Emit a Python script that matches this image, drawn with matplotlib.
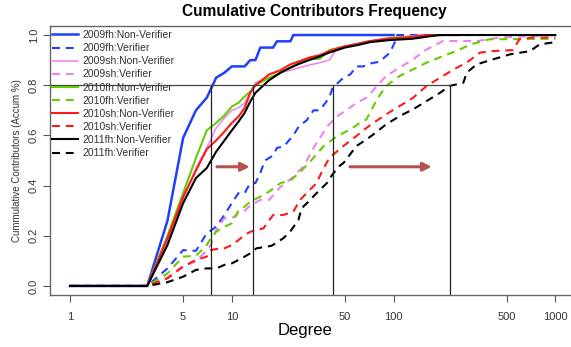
import matplotlib
matplotlib.use("Agg")
import matplotlib.pyplot as plt

plt.rcParams['font.family'] = ['Liberation Sans', 'DejaVu Sans']

# ---------------- data (degree, cumulative fraction) ----------------
labels = ["2009fh:Non-Verifier", "2009fh:Verifier",
          "2009sh:Non-Verifier", "2009sh:Verifier",
          "2010fh:Non-Verifier", "2010fh:Verifier",
          "2010sh:Non-Verifier", "2010sh:Verifier",
          "2011fh:Non-Verifier", "2011fh:Verifier"]
colors = ["#1f3fff", "#1f3fff", "#ee82ee", "#ee82ee", "#66cc00", "#66cc00",
          "#ff1a1a", "#ff1a1a", "#000000", "#000000"]

d_09fh_nv = [1, 3, 4, 5, 6, 7, 8, 9, 10, 12, 13, 14, 15, 18, 19, 23, 24, 100]
v_09fh_nv = [0, 0, 0.26, 0.59, 0.70, 0.75, 0.83, 0.85, 0.875, 0.875, 0.90, 0.90,
             0.95, 0.95, 0.975, 0.975, 1.0, 1.0]

d_09fh_v = [1, 3, 4, 5, 6, 7, 8, 9, 10, 11, 12, 13, 14, 15, 16, 17, 18, 19, 21, 24,
            26, 29, 32, 35, 40, 42, 49, 54, 59, 65, 70, 82, 95, 102, 105, 300]
v_09fh_v = [0, 0, 0.07, 0.143, 0.14, 0.21, 0.236, 0.283, 0.33, 0.37, 0.37, 0.41,
            0.41, 0.45, 0.50, 0.51, 0.52, 0.55, 0.557, 0.60, 0.637, 0.66, 0.70, 0.70,
            0.75, 0.79, 0.83, 0.843, 0.875, 0.875, 0.885, 0.894, 0.93, 0.973, 1.0, 1.0]

d_09sh_nv = [1, 3, 4, 5, 6, 7, 8, 9, 10, 11, 12, 13, 14, 17, 20, 23, 30, 35, 40, 45,
             55, 70, 90, 120, 150]
v_09sh_nv = [0, 0, 0.18, 0.345, 0.47, 0.55, 0.63, 0.67, 0.70, 0.71, 0.73, 0.77, 0.81,
             0.83, 0.85, 0.86, 0.88, 0.89, 0.90, 0.95, 0.96, 0.975, 0.985, 0.995, 1.0]

d_09sh_v = [1, 3, 4, 5, 6, 7, 7.4, 8, 9, 10, 11, 12, 13, 15, 17, 20, 24, 28, 32, 39,
            45, 52, 59, 68, 79, 90, 109, 132, 160, 202, 330, 450, 1000]
v_09sh_v = [0, 0, 0.035, 0.08, 0.097, 0.143, 0.163, 0.223, 0.27, 0.27, 0.29, 0.30,
            0.32, 0.343, 0.343, 0.395, 0.435, 0.48, 0.55, 0.637, 0.677, 0.704, 0.73,
            0.75, 0.797, 0.837, 0.87, 0.903, 0.943, 0.976, 0.976, 0.99, 1.0]

d_10fh_nv = [1, 3, 4, 5, 6, 7, 8, 9, 10, 11, 12, 13, 14, 17, 20, 23, 26, 30, 35, 40,
             50, 60, 80, 100, 150, 200]
v_10fh_nv = [0, 0, 0.20, 0.37, 0.51, 0.62, 0.65, 0.68, 0.715, 0.73, 0.755, 0.775,
             0.80, 0.83, 0.85, 0.87, 0.89, 0.905, 0.905, 0.94, 0.955, 0.965, 0.98,
             0.99, 0.995, 1.0]

d_10fh_v = [1, 3, 4, 5, 6, 7, 7.4, 8, 9, 10, 11, 12, 13, 15, 17, 20, 23, 26, 30, 37,
            45, 54, 62, 68, 79, 90, 109, 132, 160, 202, 244, 300, 330, 390, 1000]
v_10fh_v = [0, 0, 0.05, 0.117, 0.12, 0.163, 0.19, 0.216, 0.236, 0.25, 0.30, 0.316,
            0.336, 0.356, 0.376, 0.41, 0.42, 0.45, 0.49, 0.558, 0.598, 0.624, 0.65,
            0.664, 0.744, 0.797, 0.837, 0.863, 0.89, 0.916, 0.936, 0.963, 0.97,
            0.983, 0.985]

d_10sh_nv = [1, 3, 4, 5, 6, 7, 8, 9, 10, 11, 12, 13, 14, 17, 20, 23, 26, 30, 35, 40,
             50, 60, 70, 90, 120, 160, 250]
v_10sh_nv = [0, 0, 0.19, 0.355, 0.46, 0.545, 0.58, 0.615, 0.65, 0.675, 0.71, 0.77,
             0.80, 0.843, 0.86, 0.883, 0.895, 0.91, 0.92, 0.936, 0.955, 0.965, 0.975,
             0.985, 0.99, 1.0, 1.0]

d_10sh_v = [1, 3, 4, 5, 6, 7, 7.4, 8, 9, 10, 11, 12, 13, 15.7, 18, 20.8, 24, 26.4, 29,
            33.4, 36, 40, 49, 59, 68, 75, 90, 109, 132, 160, 194, 235, 283, 342, 410,
            545, 600, 720, 1000]
v_10sh_v = [0, 0, 0.03, 0.077, 0.104, 0.117, 0.143, 0.147, 0.15, 0.163, 0.183, 0.203,
            0.216, 0.23, 0.283, 0.283, 0.296, 0.343, 0.37, 0.41, 0.455, 0.51, 0.558,
            0.598, 0.63, 0.65, 0.684, 0.717, 0.75, 0.797, 0.83, 0.863, 0.89, 0.93,
            0.936, 0.94, 0.983, 0.99, 0.99]

d_11fh_nv = [1, 3, 4, 5, 6, 7, 8, 9, 10, 11, 12, 13, 14, 17, 20, 23, 26, 30, 35, 40,
             50, 60, 72, 95, 130, 190, 1000]
v_11fh_nv = [0, 0, 0.163, 0.33, 0.43, 0.47, 0.535, 0.58, 0.62, 0.655, 0.69, 0.735,
             0.77, 0.82, 0.85, 0.87, 0.885, 0.90, 0.915, 0.93, 0.95, 0.96, 0.972,
             0.98, 0.985, 1.0, 1.0]

d_11fh_v = [1, 3, 4, 5, 6, 7, 8, 9, 10, 11, 12, 13, 14.2, 17.6, 20.8, 22.9, 25.8, 27,
            29.8, 33.4, 38.7, 42.4, 46.6, 49, 59, 68, 75, 90, 109, 132, 160, 194, 222,
            270, 283, 326, 411, 525, 697, 800, 960, 1000]
v_11fh_v = [0, 0, 0.015, 0.037, 0.064, 0.07, 0.07, 0.084, 0.09, 0.104, 0.117, 0.13,
            0.15, 0.16, 0.19, 0.216, 0.263, 0.31, 0.336, 0.37, 0.41, 0.449, 0.48,
            0.49, 0.558, 0.584, 0.604, 0.644, 0.677, 0.704, 0.737, 0.77, 0.797, 0.81,
            0.85, 0.883, 0.903, 0.923, 0.936, 0.963, 0.97, 0.975]

series = [(d_09fh_nv, v_09fh_nv), (d_09fh_v, v_09fh_v),
          (d_09sh_nv, v_09sh_nv), (d_09sh_v, v_09sh_v),
          (d_10fh_nv, v_10fh_nv), (d_10fh_v, v_10fh_v),
          (d_10sh_nv, v_10sh_nv), (d_10sh_v, v_10sh_v),
          (d_11fh_nv, v_11fh_nv), (d_11fh_v, v_11fh_v)]

x_ticks = [1, 5, 10, 50, 100, 500, 1000]
y_ticks = [0.0, 0.2, 0.4, 0.6, 0.8, 1.0]
ref_degrees = [7.4, 13.5, 42, 224]
ref_level = 0.8

# ---------------- figure ----------------
W, H = 571, 347
fig = plt.figure(figsize=(W / 100, H / 100), dpi=100)
ax = fig.add_axes([50 / W, 1 - 295 / H, (578 - 50) / W, (295 - 26) / H])
ax.set_xscale('log')
ax.set_xlim(10 ** -0.124, 10 ** 3.14)
ax.set_ylim(-0.036, 1.036)

widths = [1.8, 1.5, 1.1, 1.5, 1.5, 1.5, 1.5, 1.5, 1.5, 1.5]
for i, ((d, v), c, lab) in enumerate(zip(series, colors, labels)):
    dashed = (i % 2 == 1)
    ax.plot(d, v, color=c, lw=widths[i], ls=(0, (3.8, 2.8)) if dashed else '-',
            label=lab, solid_joinstyle='round')

# reference lines
for rd in ref_degrees:
    ax.plot([rd, rd], [-0.036, ref_level], color='#222222', lw=0.9)
ax.plot([10 ** -0.124, ref_degrees[-1]], [ref_level, ref_level], color='#444444', lw=0.9)

# arrows
arrow_col = '#b5514f'
for x0, x1 in [(8.1, 12.9), (53.8, 172)]:
    ax.annotate('', xy=(x1, 0.475), xytext=(x0, 0.475),
                arrowprops=dict(arrowstyle='-|>,head_length=0.5,head_width=0.25',
                                color=arrow_col, lw=2.2, shrinkA=0, shrinkB=0))

ax.set_xticks(x_ticks)
ax.set_xticklabels([str(t) for t in x_ticks])
ax.minorticks_off()
ax.set_yticks(y_ticks)
ax.set_yticklabels([f"{t:.1f}" for t in y_ticks], rotation=90, va='center')
ax.tick_params(axis='both', labelsize=8, length=5, width=0.8, color='#555555',
               labelcolor='#333333', pad=3)
ax.tick_params(axis='x', pad=7)
for s in ax.spines.values():
    s.set_color('#666666')
    s.set_linewidth(1.0)

ax.set_xlabel('Degree', fontsize=12, labelpad=1)
ax.xaxis.set_label_coords((305 - 50) / 528, -0.105)
ax.set_ylabel('Cummulative Contributors (Accum %)', fontsize=7, color='#333333', labelpad=5)

fig.text(0.55, 0.968, 'Cumulative Contributors Frequency', ha='center', va='center',
         fontsize=11.2, fontweight='bold')

leg = ax.legend(loc='upper left', bbox_to_anchor=(50 / W, 1 - 28 / H),
                bbox_transform=fig.transFigure, frameon=False, fontsize=7.5,
                handlelength=2.5, handletextpad=0.45, labelspacing=0.3,
                borderaxespad=0, borderpad=0.2)
for t in leg.get_texts():
    t.set_color('#333333')

fig.savefig('out.png', dpi=100)
